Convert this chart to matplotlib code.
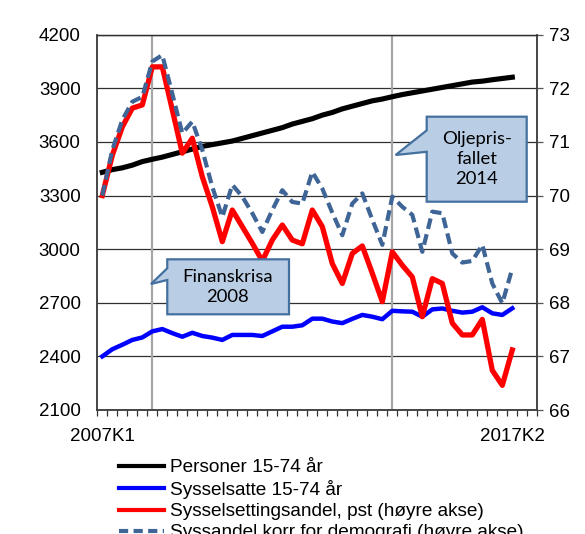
import matplotlib
matplotlib.use('Agg')
import matplotlib.pyplot as plt
from matplotlib.patches import Polygon
from matplotlib.lines import Line2D
import numpy as np

plt.rcParams['font.family'] = ['Liberation Sans', 'DejaVu Sans']

# ---------------- data ----------------
quarters = [f"{y}K{q}" for y in range(2007, 2018) for q in range(1, 5)][:42]
n_slots = 44  # category axis runs to 2017K4

personer = [3430, 3445, 3455, 3470, 3490, 3503, 3515, 3530, 3545, 3560, 3575,
            3585, 3595, 3605, 3620, 3635, 3650, 3665, 3680, 3700, 3715, 3730,
            3750, 3765, 3785, 3800, 3815, 3830, 3840, 3853, 3865, 3875, 3885,
            3895, 3905, 3915, 3925, 3935, 3940, 3948, 3955, 3962]

sysselsatte = [2400, 2440, 2465, 2492, 2506, 2540, 2553, 2530, 2510, 2532, 2514,
               2505, 2492, 2520, 2520, 2520, 2514, 2540, 2566, 2566, 2574, 2611,
               2611, 2595, 2586, 2610, 2632, 2622, 2608, 2655, 2652, 2650, 2622,
               2663, 2668, 2655, 2645, 2650, 2675, 2641, 2632, 2669]

andel = [70.0, 70.75, 71.28, 71.63, 71.69, 72.40, 72.40, 71.6, 70.79, 71.07, 70.35,
         69.79, 69.14, 69.73, 69.42, 69.11, 68.78, 69.17, 69.45, 69.17, 69.10, 69.73,
         69.42, 68.73, 68.36, 68.92, 69.06, 68.55, 68.02, 68.95, 68.70, 68.48, 67.74,
         68.45, 68.36, 67.62, 67.40, 67.40, 67.69, 66.74, 66.46, 67.12]

andel_korr = [70.0, 70.85, 71.41, 71.75, 71.84, 72.50, 72.62, 71.9, 71.16, 71.38, 70.85,
              70.16, 69.60, 70.20, 69.98, 69.67, 69.32, 69.73, 70.10, 69.88, 69.85, 70.44,
              70.13, 69.68, 69.26, 69.85, 70.04, 69.55, 69.08, 69.98, 69.79, 69.64, 68.95,
              69.70, 69.67, 68.92, 68.75, 68.78, 69.08, 68.36, 67.99, 68.64]

xtick_labels = ['2007K1', '2017K2']
event_quarters = ['2008K2', '2014K2']

labels = ['Personer 15-74 år', 'Sysselsatte 15-74 år',
          'Sysselsettingsandel, pst (høyre akse)',
          'Syssandel korr for demografi (høyre akse)']

# ---------------- figure ----------------
W, H = 585, 534
fig = plt.figure(figsize=(W / 100, H / 100), dpi=100)
ax = fig.add_axes([97.3 / W, 1 - 410 / H, 440 / W, 375.3 / H])
ax2 = ax.twinx()

x = np.arange(len(quarters))

ax.set_xlim(-0.5, n_slots - 0.5)
ax.set_ylim(2100, 4200)
ax.set_yticks(range(2100, 4201, 300))
ax2.set_ylim(66, 73)
ax2.set_yticks(range(66, 74))

ax.grid(axis='y', color='#303030', lw=0.9)
ax.set_axisbelow(True)

fs = 13.5
ax.tick_params(axis='y', length=0, pad=12, labelsize=fs)
ax2.tick_params(axis='y', length=4.5, width=0.9, pad=4, labelsize=fs, color='#555555')
ax.set_xticks([quarters.index(l) for l in xtick_labels])
ax.set_xticklabels(xtick_labels)
ax.tick_params(axis='x', which='major', length=0, pad=13, labelsize=fs)
ax.set_xticks(np.arange(-0.5, n_slots, 1), minor=True)
ax.tick_params(axis='x', which='minor', length=4, width=0.9, color='#333333')

for a in (ax, ax2):
    for s in ('left', 'right', 'bottom'):
        a.spines[s].set_color('#404040')
        a.spines[s].set_linewidth(1.1)
    a.spines['top'].set_color('#303030')
    a.spines['top'].set_linewidth(0.9)

for q in event_quarters:
    ax.axvline(quarters.index(q), color='#a6a6a6', lw=1.6, zorder=1.5)

ax.plot(x, personer, color='black', lw=3.7, solid_joinstyle='round', zorder=3)
ax.plot(x, sysselsatte, color='#0000ff', lw=3.2, solid_joinstyle='round', zorder=3)
ax2.plot(x, andel, color='#ff0000', lw=3.8, solid_joinstyle='round', zorder=3)
ax2.plot(x, andel_korr, color='#3f6596', lw=3.0, dashes=(2.6, 1.3),
         dash_capstyle='butt', zorder=4)

# ---------------- callouts ----------------
box_fc = '#b9cde5'
box_ec = '#44709f'

def callout(x0, y0, x1, y1, wy_top, wy_bot, tip):
    verts = [(x0, y0), (x1, y0), (x1, y1), (x0, y1), (x0, wy_top), tip, (x0, wy_bot)]
    p = Polygon(verts, closed=True, transform=ax2.transAxes, fc=box_fc, ec=box_ec,
                lw=1.6, zorder=10, clip_on=False, joinstyle='miter')
    ax2.add_patch(p)

callout(0.159, 0.255, 0.4357, 0.4015, 0.3776, 0.3464, (0.122, 0.3357))
ax2.text(0.297, 0.3277, 'Finanskrisa\n2008', transform=ax2.transAxes, ha='center',
         va='center', family=['Lato', 'DejaVu Sans'], fontsize=13.3, linespacing=1.3,
         zorder=11)

callout(0.7486, 0.555, 0.9759, 0.7815, 0.745, 0.688, (0.678, 0.6795))
ax2.text(0.862, 0.668, 'Oljepris-\nfallet\n2014', transform=ax2.transAxes, ha='center',
         va='center', family=['Lato', 'DejaVu Sans'], fontsize=13.3, linespacing=1.3,
         zorder=11)

# ---------------- legend ----------------
handles = [Line2D([], [], color='black', lw=3.0),
           Line2D([], [], color='#0000ff', lw=3.0),
           Line2D([], [], color='#ff0000', lw=3.0),
           Line2D([], [], color='#3f6596', lw=3.0, dashes=(2.2, 1.3))]
fig.legend(handles, labels, loc='upper left', bbox_to_anchor=(118.6 / W, 1 - 459 / H),
           frameon=False, fontsize=13.7, handlelength=2.4, handletextpad=0.3,
           labelspacing=0.2, borderpad=0, borderaxespad=0)

fig.savefig('out.png', dpi=100)
